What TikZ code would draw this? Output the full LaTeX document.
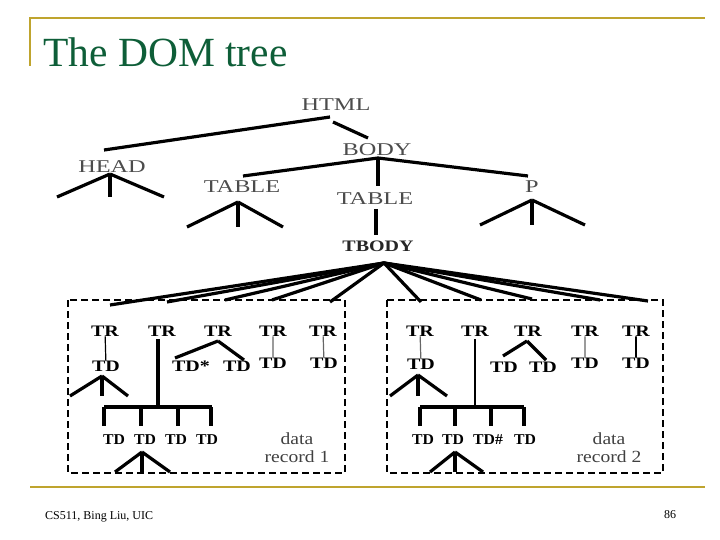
\documentclass[tikz,border=0pt]{standalone}
\usepackage{fontspec}
\setmainfont{Liberation Serif}
\begin{document}
\begin{tikzpicture}[x=1pt,y=-1pt,
  lbl/.style={font=\fontsize{18}{18}\selectfont, text=black!70, inner sep=0pt, xscale=1.35, transform shape},
  bl/.style={font=\fontsize{16}{16}\selectfont\bfseries, inner sep=0pt, xscale=1.25, transform shape},
  bls/.style={font=\fontsize{15}{15}\selectfont\bfseries, inner sep=0pt, xscale=1.05, transform shape},
  rec/.style={font=\fontsize{17}{17}\selectfont, text=black!75, inner sep=0pt, xscale=1.15, transform shape, align=center},
  edge/.style={line width=3.2pt},
  thin/.style={line width=1.2pt, black!60},
  box/.style={line width=2.6pt, dash pattern=on 7pt off 4pt}]
\useasboundingbox (0,0) rectangle (720,540);
\definecolor{olive}{HTML}{BFA42E}
\definecolor{ttl}{HTML}{0E5E38}
% slide decoration
\coordinate (t1) at (30,18); \coordinate (t2) at (705,18); \coordinate (t3) at (30,66);
\draw[olive, line width=1.8pt] (t3) -- (t1) -- (t2);
\coordinate (b1) at (30,487); \coordinate (b2) at (705,487);
\draw[olive, line width=1.8pt] (b1) -- (b2);
\node[anchor=west, font=\fontsize{41.5}{41.5}\selectfont, text=ttl, inner sep=0pt] (title) at (43,52) {The DOM tree};
\node[anchor=west, font=\fontsize{12}{12}\selectfont, inner sep=0pt] (foot) at (45,517) {CS511, Bing Liu, UIC};
\node[font=\fontsize{12}{12}\selectfont, inner sep=0pt] (page) at (670,515) {86};

% upper tree
\node[lbl] (html) at (336,105) {HTML};
\node[lbl] (head) at (112,167) {HEAD};
\node[lbl] (body) at (377,150) {BODY};
\node[lbl] (tab1) at (242,187) {TABLE};
\node[lbl] (tab2) at (375,199) {TABLE};
\node[lbl] (p) at (532,187) {P};
\node[bl, text=black!85] (tbody) at (378,246) {TBODY};

\coordinate (hA) at (330,117); \coordinate (hB) at (333,122);
\coordinate (headT) at (104,150); \coordinate (bodyT) at (368,138);
\draw[edge] (hA) -- (headT); \draw[edge] (hB) -- (bodyT);
\coordinate (headA) at (110,174);
\foreach \n/\x in {1/57,2/110,3/164}{\coordinate (hd\n) at (\x,197); \draw[edge] (headA) -- (hd\n);}
\coordinate (bodyA) at (378,158);
\coordinate (t1top) at (243,176); \coordinate (ptop) at (528,176); \coordinate (t2top) at (378,186);
\draw[edge] (bodyA) -- (t1top); \draw[edge] (bodyA) -- (ptop); \draw[line width=4.5pt] (bodyA) -- (t2top);
\coordinate (t1A) at (238,202);
\foreach \n/\x in {1/187,2/238,3/283}{\coordinate (ta\n) at (\x,227); \draw[edge] (t1A) -- (ta\n);}
\coordinate (pA) at (532,200);
\foreach \n/\x in {1/480,2/532,3/585}{\coordinate (pa\n) at (\x,225); \draw[edge] (pA) -- (pa\n);}
\coordinate (t2b) at (376,209); \coordinate (tbt) at (376,235);
\draw[line width=4.5pt] (t2b) -- (tbt);

% boxes
\draw[box] (68,300) rectangle (345,473);
\draw[box] (387,300) rectangle (663,473);

% TBODY fan
\coordinate (tbA) at (384,263);
\foreach \n/\x/\y in {1/110/305,2/167/302,3/225/300,4/272/300,5/330/302,6/421/302,7/481/300,8/532/299,9/600/300,10/648/301}{
  \coordinate (fan\n) at (\x,\y); \draw[edge] (tbA) -- (fan\n);}

% left record
\foreach \n/\x in {1/105,2/162,3/218,4/273,5/323}{\node[bl] (ltr\n) at (\x,331) {TR};}
\node[bl] (ltd1) at (106,366) {TD};
\draw[thin, black] (ltr1) -- (ltd1);
\coordinate (l1A) at (102,376);
\foreach \n/\x in {1/70,2/102,3/128}{\coordinate (l1e\n) at (\x,396); \draw[edge] (l1A) -- (l1e\n);}
\coordinate (ltr2b) at (158,339); \coordinate (lbus) at (158,407);
\draw[line width=3.5pt] (ltr2b) -- (lbus);
\coordinate (lbL) at (104,407); \coordinate (lbR) at (212,407);
\draw[edge] (lbL) -- (lbR);
\foreach \n/\x in {1/104,2/141,3/178,4/211}{\coordinate (ld\n) at (\x,407); \coordinate (le\n) at (\x,426); \draw[edge] (ld\n) -- (le\n);}
\foreach \n/\x in {1/114,2/145,3/176,4/207}{\node[bls] (lbd\n) at (\x,440) {TD};}
\coordinate (lbA) at (142,452);
\foreach \n/\x in {1/115,2/142,3/170}{\coordinate (lbe\n) at (\x,472); \draw[edge] (lbA) -- (lbe\n);}
\node[bl] (ltdS) at (191,366) {TD*};
\node[bl] (ltd3) at (237,366) {TD};
\coordinate (l3A) at (218,341);
\coordinate (l3a) at (175,358); \coordinate (l3b) at (244,360);
\draw[edge] (l3A) -- (l3a); \draw[edge] (l3A) -- (l3b);
\node[bl] (ltd4) at (273,363) {TD};
\node[bl] (ltd5) at (324,363) {TD};
\draw[thin] (ltr4) -- (ltd4); \draw[thin] (ltr5) -- (ltd5);
\node[rec] (rec1) at (297,448) {data\\[1pt]record 1};

% right record
\foreach \n/\x in {1/420,2/475,3/528,4/585,5/636}{\node[bl] (rtr\n) at (\x,331) {TR};}
\node[bl] (rtd1) at (421,364) {TD};
\draw[thin] (rtr1) -- (rtd1);
\coordinate (r1A) at (418,375);
\foreach \n/\x in {1/390,2/418,3/447}{\coordinate (r1e\n) at (\x,396); \draw[edge] (r1A) -- (r1e\n);}
\coordinate (rtr2b) at (475,339); \coordinate (rbus) at (475,407);
\draw[line width=1.6pt] (rtr2b) -- (rbus);
\coordinate (rbL) at (420,407); \coordinate (rbR) at (524,407);
\draw[edge] (rbL) -- (rbR);
\foreach \n/\x in {1/423,2/453,3/488,4/525}{\coordinate (rd\n) at (\x,407); \coordinate (re\n) at (\x,426);}
\foreach \n/\x in {1/420,2/455,3/491,4/524}{\coordinate (rdt\n) at (\x,407); \coordinate (rdb\n) at (\x,426); \draw[edge] (rdt\n) -- (rdb\n);}
\foreach \n/\x/\t in {1/423/TD,2/453/TD,3/488/TD\#,4/525/TD}{\node[bls] (rbd\n) at (\x,440) {\t};}
\coordinate (rbA) at (455,452);
\foreach \n/\x in {1/430,2/455,3/483}{\coordinate (rbe\n) at (\x,472); \draw[edge] (rbA) -- (rbe\n);}
\node[bl] (rtd3a) at (504,367) {TD};
\node[bl] (rtd3b) at (543,367) {TD};
\coordinate (r3A) at (527,341);
\coordinate (r3a) at (503,356); \coordinate (r3b) at (546,360);
\draw[edge] (r3A) -- (r3a); \draw[edge] (r3A) -- (r3b);
\node[bl] (rtd4) at (585,363) {TD};
\node[bl] (rtd5) at (636,363) {TD};
\draw[thin] (rtr4) -- (rtd4); \draw[thin, black, line width=1.8pt] (rtr5) -- (rtd5);
\node[rec] (rec2) at (609,448) {data\\[1pt]record 2};
\end{tikzpicture}
\end{document}
